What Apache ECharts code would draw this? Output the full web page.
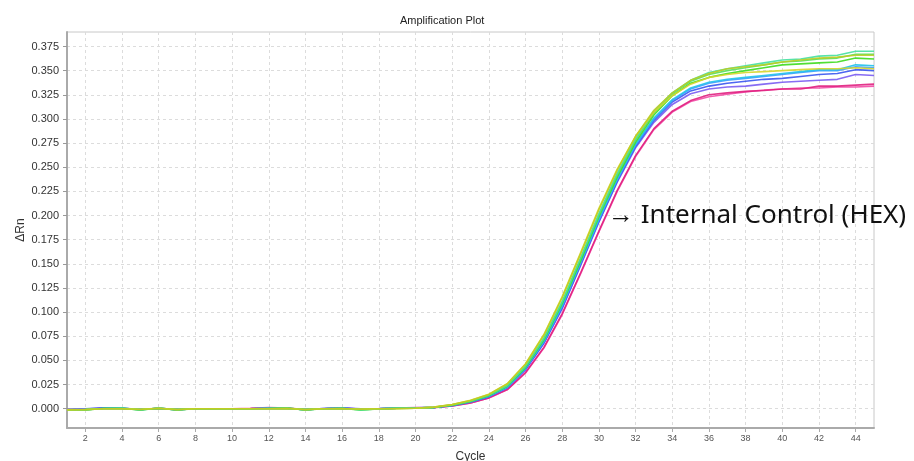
<!DOCTYPE html>
<html><head><meta charset="utf-8">
<script src="https://cdn.jsdelivr.net/npm/echarts@6/dist/echarts.min.js"></script>
<style>html,body{margin:0;padding:0;background:#fff}#c{width:914px;height:461px}</style>
</head><body><div id="c"></div>
<script>
const cycles = [1,2,3,4,5,6,7,8,9,10,11,12,13,14,15,16,17,18,19,20,21,22,23,24,25,26,27,28,29,30,31,32,33,34,35,36,37,38,39,40,41,42,43,44,45];
const xTicks = [2,4,6,8,10,12,14,16,18,20,22,24,26,28,30,32,34,36,38,40,42,44];
const yTicks = [0,0.025,0.05,0.075,0.1,0.125,0.15,0.175,0.2,0.225,0.25,0.275,0.3,0.325,0.35,0.375];

const pink = [-0.0008,-0.0006,0.0002,0.0002,-0.0006,0.0002,-0.0008,0,0,0,0.0004,0.0012,0.0006,-0.0008,0,0.0004,-0.0004,0,0.0006,0.0012,0.0012,0.0027,0.0058,0.0110,0.0195,0.0370,0.0628,0.0975,0.1395,0.1830,0.2250,0.2610,0.2890,0.3070,0.3180,0.3230,0.3255,0.3280,0.3300,0.3310,0.3320,0.3320,0.3330,0.3330,0.3340];
const magenta = [-0.0010,-0.0008,0.0003,0.0002,-0.0008,0.0003,-0.0009,0,0,0,0.0002,0.0010,0.0004,-0.0009,0,0.0003,-0.0006,0,0.0004,0.0006,0.0010,0.0028,0.0060,0.0112,0.0198,0.0375,0.0635,0.0985,0.1405,0.1840,0.2260,0.2620,0.2900,0.3080,0.3190,0.3250,0.3270,0.3285,0.3295,0.3310,0.3310,0.3340,0.3340,0.3350,0.3360];
const purple = [-0.0008,-0.0004,0.0006,0.0004,-0.0006,0.0002,-0.0008,0,0,0,0,0.0003,0.0002,-0.0008,0.0002,0.0008,-0.0002,0.0002,0.0008,0.0010,0.0013,0.0032,0.0068,0.0122,0.0214,0.0402,0.0675,0.1035,0.1480,0.1930,0.2345,0.2700,0.2965,0.3150,0.3260,0.3310,0.3330,0.3340,0.3360,0.3380,0.3390,0.3400,0.3410,0.3460,0.3450];
const blue = [-0.0010,-0.0002,0.0008,0.0004,-0.0008,0.0003,-0.0010,0,0,0,0,0.0002,0.0002,-0.0010,0.0002,0.0006,-0.0004,0,0.0006,0.0008,0.0014,0.0033,0.0070,0.0125,0.0218,0.0408,0.0682,0.1045,0.1490,0.1940,0.2355,0.2715,0.2985,0.3175,0.3290,0.3340,0.3370,0.3390,0.3410,0.3420,0.3440,0.3460,0.3470,0.3510,0.3500];
const lightBlue = [-0.0010,-0.0008,0.0002,0.0003,-0.0008,0.0002,-0.0010,0,0,0,0,0.0002,0.0002,-0.0010,0,0.0004,-0.0006,0,0.0006,0.0006,0.0013,0.0034,0.0072,0.0128,0.0222,0.0415,0.0692,0.1060,0.1505,0.1955,0.2370,0.2730,0.3000,0.3190,0.3310,0.3370,0.3400,0.3420,0.3440,0.3460,0.3480,0.3500,0.3500,0.3540,0.3530];
const cyan = [-0.0012,-0.0010,0.0002,0.0002,-0.0010,0.0003,-0.0010,0,0,0,0,0.0003,0.0002,-0.0010,0,0.0004,-0.0008,-0.0002,0.0004,0.0006,0.0014,0.0036,0.0074,0.0130,0.0225,0.0420,0.0700,0.1070,0.1515,0.1965,0.2380,0.2740,0.3010,0.3200,0.3320,0.3380,0.3410,0.3430,0.3450,0.3470,0.3490,0.3510,0.3510,0.3560,0.3550];
const lime = [-0.0014,-0.0012,0.0002,0.0002,-0.0012,0.0004,-0.0012,0,0,0,0,0.0002,0.0006,-0.0012,0,0.0002,-0.0012,-0.0004,0.0002,0.0004,0.0012,0.0035,0.0075,0.0135,0.0232,0.0428,0.0712,0.1090,0.1530,0.1990,0.2400,0.2760,0.3040,0.3240,0.3370,0.3430,0.3470,0.3500,0.3530,0.3560,0.3570,0.3580,0.3590,0.3630,0.3620];
const green = [-0.0012,-0.0010,0.0002,0.0003,-0.0010,0.0004,-0.0010,0,0,0,0,0.0002,0.0004,-0.0010,0,0.0002,-0.0010,-0.0002,0.0004,0.0006,0.0014,0.0038,0.0078,0.0138,0.0236,0.0435,0.0722,0.1100,0.1550,0.2000,0.2420,0.2780,0.3060,0.3260,0.3390,0.3460,0.3500,0.3530,0.3560,0.3590,0.3600,0.3620,0.3630,0.3670,0.3670];
const teal = [-0.0012,-0.0010,0.0002,0.0003,-0.0010,0.0004,-0.0010,0,0,0,0,0.0002,0.0003,-0.0010,0,0.0002,-0.0010,-0.0002,0.0004,0.0006,0.0014,0.0040,0.0080,0.0140,0.0240,0.0440,0.0730,0.1110,0.1560,0.2020,0.2440,0.2800,0.3080,0.3270,0.3400,0.3480,0.3520,0.3550,0.3580,0.3610,0.3620,0.3650,0.3660,0.3700,0.3700];
const yellow = [-0.0010,-0.0008,0,0,-0.0006,0.0004,-0.0008,0,0,0,0,0,0.0002,-0.0008,0,0,-0.0004,0,0,0.0004,0.0016,0.0044,0.0088,0.0150,0.0258,0.0465,0.0768,0.1160,0.1615,0.2075,0.2480,0.2820,0.3070,0.3240,0.3360,0.3430,0.3460,0.3480,0.3490,0.3500,0.3510,0.3520,0.3520,0.3530,0.3520];
const olive = [-0.0012,-0.0010,0,0,-0.0008,0.0002,-0.0010,0,0,0,0,0,0.0002,-0.0010,0,0.0002,-0.0006,0,0.0002,0.0004,0.0016,0.0042,0.0085,0.0148,0.0255,0.0460,0.0760,0.1150,0.1600,0.2060,0.2470,0.2820,0.3090,0.3270,0.3400,0.3470,0.3520,0.3540,0.3560,0.3590,0.3610,0.3630,0.3640,0.3660,0.3660];

const seriesDefs = [
  ['pink', pink, '#f24aa6'],
  ['magenta', magenta, '#e0207f'],
  ['purple', purple, '#7a5cf2'],
  ['blue', blue, '#3a55f0'],
  ['lightBlue', lightBlue, '#3d9cff'],
  ['cyan', cyan, '#22c2ea'],
  ['lime', lime, '#3ddc1e'],
  ['green', green, '#55e05a'],
  ['teal', teal, '#45e0a0'],
  ['yellow', yellow, '#d6d62a'],
  ['olive', olive, '#bccc22']
];

const chart = echarts.init(document.getElementById('c'), null, {renderer: 'canvas'});
chart.setOption({
  animation: false,
  backgroundColor: '#fff',
  title: {
    text: 'Amplification Plot', left: 395, top: 10,
    textStyle: {fontFamily: 'Liberation Sans', fontSize: 11, fontWeight: 'normal', color: '#222'}
  },
  grid: {left: 67, right: 40, top: 32, bottom: 33, outerBoundsMode: 'none', containLabel: false,
         show: true, borderColor: '#c8c8c8', borderWidth: 1, backgroundColor: 'transparent'},
  xAxis: {
    type: 'value', min: 1, max: 45,
    name: 'Cycle', nameLocation: 'middle', nameGap: 23,
    nameTextStyle: {fontFamily: 'Liberation Sans', fontSize: 12, color: '#333'},
    axisLine: {onZero: false, lineStyle: {color: '#aaaaaa', width: 2}},
    axisTick: {show: true, customValues: xTicks, length: 4, lineStyle: {color: '#aaa'}},
    axisLabel: {customValues: xTicks, fontFamily: 'Liberation Sans', fontSize: 9, color: '#555', margin: 6},
    splitLine: {show: true, lineStyle: {color: '#dcdcdc', type: [3, 3], width: 1}}
  },
  yAxis: {
    type: 'value', min: -0.02, max: 0.39,
    name: 'ΔRn', nameLocation: 'middle', nameGap: 40, nameRotate: 90, nameMoveOverlap: false,
    nameTextStyle: {fontFamily: 'Liberation Sans', fontSize: 12, color: '#333'},
    axisLine: {show: true, onZero: false, lineStyle: {color: '#aaaaaa', width: 2}},
    axisTick: {show: true, customValues: yTicks, length: 4, lineStyle: {color: '#999'}},
    axisLabel: {customValues: yTicks, formatter: v => v.toFixed(3), fontFamily: 'Liberation Sans', fontSize: 11, color: '#333', margin: 8},
    splitLine: {show: true, lineStyle: {color: '#dcdcdc', type: [3, 3], width: 1}}
  },
  graphic: [{
    type: 'text', left: 608, top: 203, z: 100,
    style: {text: '→ Internal Control (HEX)', fontFamily: 'Noto Sans', fontSize: 26, fill: '#111'}
  }],
  series: seriesDefs.map(([n, arr, col]) => ({
    name: n, type: 'line', showSymbol: false, symbol: 'none', smooth: false,
    data: cycles.map((c, i) => [c, arr[i]]),
    lineStyle: {color: col, width: 1.6, opacity: 0.9}
  }))
});
</script></body></html>
